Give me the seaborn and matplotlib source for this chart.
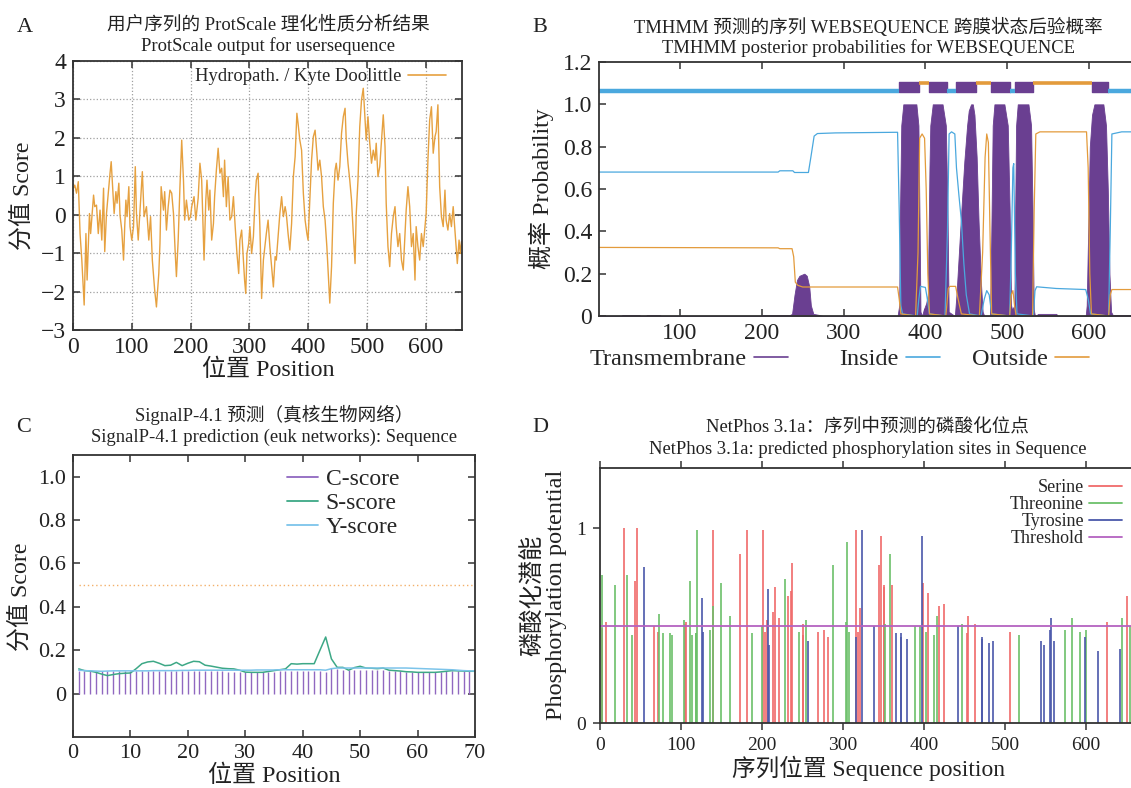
import pandas as pd
import seaborn as sns
import matplotlib.pyplot as plt
from matplotlib.lines import Line2D

# ---------------- data ----------------
# A: ProtScale hydropathy (Kyte Doolittle)
hydro_pos = [1, 3, 6, 9, 12, 15, 19, 22, 24, 28, 30, 35, 37, 40, 43, 46, 49, 52, 54, 57,
             60, 63, 65, 68, 70, 73, 75, 78, 80, 83, 86, 88, 90, 92, 95, 97, 100, 103, 106, 108,
             111, 115, 118, 121, 125, 129, 132, 135, 139, 142, 146, 148, 150, 154, 156, 159, 162, 165, 168, 171,
             174, 176, 179, 182, 185, 188, 190, 193, 197, 200, 202, 206, 209, 213, 216, 219, 223, 226, 228, 231,
             233, 236, 239, 241, 244, 247, 250, 253, 256, 258, 261, 264, 267, 270, 273, 276, 279, 282, 284, 287,
             290, 292, 294, 296, 299, 301, 304, 307, 310, 312, 315, 318, 321, 324, 327, 329, 332, 335, 338, 341,
             344, 346, 349, 352, 355, 358, 361, 363, 366, 369, 372, 375, 378, 381, 383, 386, 389, 392, 395, 398,
             400, 403, 406, 409, 412, 415, 417, 420, 423, 426, 429, 432, 434, 437, 440, 443, 446, 448, 451, 454,
             457, 460, 463, 465, 468, 471, 474, 477, 480, 482, 485, 488, 491, 494, 497, 499, 502, 505, 508, 511,
             514, 516, 519, 522, 525, 528, 531, 533, 536, 539, 542, 545, 548, 550, 553, 556, 559, 562, 565, 567,
             570, 573, 576, 579, 582, 584, 587, 590, 593, 596, 599, 601, 604, 607, 610, 613, 616, 618, 621, 624,
             627, 630, 633, 635, 638, 641, 644, 647, 650, 652, 654, 657, 659, 661]
hydro_val = [0.70, 0.77, 0.56, 0.86, -0.49, -1.18, -2.35, -0.49, -1.70, 0.03, -0.49, 0.51, 0.21, 0.25, -0.49, 0.12, -0.66, 0.69, -0.96, 0.03,
             0.56, 1.08, 1.38, 0.56, 0.03, 0.60, 0.30, 0.82, -0.01, -0.40, -1.18, -0.31, 0.38, -0.05, 0.73, -0.31, -0.66, -0.31, 1.25, 0.03,
             -0.66, 0.38, 1.12, -0.05, 0.21, -0.66, -0.05, -1.18, -1.96, -2.40, -1.53, -0.75, 0.73, 0.12, 0.60, -0.40, 0.21, 0.64, 0.56, 0.03,
             -1.01, -1.61, -0.66, 0.73, 1.94, 0.90, -0.14, 0.38, -0.14, -0.05, 0.21, 0.47, -0.14, 0.43, 1.34, 0.90, -1.18, 0.38, 0.90, 0.12,
             0.64, -0.66, -0.23, 0.47, 1.16, 1.73, 1.08, 1.21, 0.47, 1.42, 0.21, 0.99, -0.14, -0.05, 0.47, -0.31, -1.01, -1.53, -0.66, -0.40,
             -1.18, -1.70, -2.05, -1.01, -0.75, -0.31, -1.01, -0.57, 0.47, 0.90, 1.08, -0.31, -2.18, -1.18, -0.75, -0.49, -0.14, -0.83, -1.35, -1.88,
             -1.09, -1.18, -0.57, 0.03, 0.47, -0.05, 0.21, 0.03, -0.49, -0.92, -0.23, 0.99, 1.51, 2.64, 2.38, 1.94, 1.68, 0.56, -0.14, -0.49,
             -0.66, 0.38, 1.42, 2.03, 2.20, 1.60, 1.16, 1.42, 0.99, 0.21, -0.14, -0.83, -1.44, -2.30, -1.35, 0.30, 1.16, 1.34, 0.90, 1.25,
             2.12, 2.55, 2.77, 1.94, 1.34, 0.90, 0.38, -0.49, -1.27, 0.03, 0.90, 2.29, 2.99, 3.29, 2.47, 1.94, 2.55, 1.86, 1.34, 1.68,
             1.42, 1.86, 0.99, 1.25, 1.94, 2.60, 1.77, 0.30, -0.83, -1.35, -0.49, -0.05, 0.21, -0.31, -0.83, -0.49, -1.18, -1.44, -0.49, 0.12,
             0.73, 0.21, -0.83, -0.49, -1.70, -0.31, -0.83, -1.18, -0.49, -0.83, -0.31, 0.03, 1.42, 2.47, 2.81, 1.60, 2.03, 2.16, 2.86, 0.73,
             -0.05, -0.31, 0.64, -0.14, -0.40, 0.03, -0.31, 0.21, -0.40, -0.83, -1.27, -0.66, -1.01, -0.70]

# B: TMHMM posterior probabilities (breakpoints)
tm_pos = [1, 28, 30, 50, 52, 58, 60, 75, 77, 198, 200, 234, 237, 240, 243, 246, 252, 255, 258, 260,
          263, 270, 275, 366, 368, 369, 370.5, 373, 389, 391.5, 393, 394, 396, 398, 401, 403, 405, 406, 409, 421,
          425, 427, 428.5, 436, 438, 441, 444, 447.6, 451, 453, 455.8, 458, 460, 462.7, 465, 468, 470, 472, 479, 480.3,
          482.3, 484.4, 496.6, 500.7, 503, 504.8, 506, 508.8, 509.8, 510.9, 512.9, 526, 529.2, 531, 532.5, 534, 538, 560, 562, 596,
          597.2, 599, 601, 603.7, 606.6, 617.6, 620.8, 623, 625, 627, 629, 661]
tm_prob = [0, 0, 0.005, 0.005, 0, 0, 0.005, 0.005, 0, 0, 0.004, 0.004, 0.01, 0.1, 0.17, 0.19, 0.2, 0.19, 0.14, 0.05,
           0.01, 0.005, 0, 0, 0.05, 0.5, 0.9, 1.0, 1.0, 0.9, 0.4, 0.02, 0, 0.03, 0.06, 0.1, 0.7, 0.9, 1.0, 1.0,
           0.9, 0.5, 0.02, 0, 0.1, 0.3, 0.5, 0.73, 0.9, 0.97, 1.0, 1.0, 0.95, 0.75, 0.45, 0.15, 0.02, 0, 0, 0.3,
           0.9, 1.0, 1.0, 0.9, 0.5, 0.05, 0.03, 0.05, 0.5, 0.9, 1.0, 1.0, 0.9, 0.5, 0.03, 0, 0.01, 0.01, 0, 0,
           0.05, 0.4, 0.8, 0.95, 1.0, 1.0, 0.9, 0.6, 0.2, 0.02, 0.005, 0.005]
inside_pos = [1, 220, 222, 238, 240, 257, 260, 264, 268, 290, 366, 368, 370, 372, 390, 392, 394, 400, 402, 405,
              424, 427, 429, 432, 436, 438, 441, 444, 447, 450, 454, 468, 472, 475, 478, 481, 503, 505, 507, 508,
              510, 512, 532, 534, 536, 560, 596, 599, 602, 624, 626, 628, 640, 661]
inside_prob = [0.68, 0.68, 0.686, 0.686, 0.678, 0.678, 0.75, 0.85, 0.862, 0.865, 0.868, 0.5, 0.05, 0.01, 0, 0.08, 0.14, 0.135, 0.09, 0.01,
               0, 0.4, 0.86, 0.87, 0.86, 0.7, 0.57, 0.45, 0.25, 0.1, 0.01, 0, 0.08, 0.12, 0.1, 0.01, 0, 0.3, 0.7, 0.72,
               0.2, 0.01, 0, 0.12, 0.138, 0.13, 0.125, 0.08, 0.01, 0, 0.4, 0.86, 0.87, 0.87]
outside_pos = [1, 220, 222, 237, 239, 241, 244, 250, 366, 368, 370, 388, 391, 393, 396, 399, 401, 403, 405, 425,
               428, 430, 437, 440, 444, 466, 470, 473, 475, 477, 479, 481, 503, 505, 507, 509, 511, 531, 533, 535,
               540, 597, 599, 601, 603, 624, 626, 628, 661]
outside_prob = [0.324, 0.322, 0.318, 0.318, 0.28, 0.16, 0.145, 0.137, 0.137, 0.08, 0.01, 0, 0.3, 0.84, 0.86, 0.84, 0.6, 0.2, 0.01, 0,
                0.13, 0.14, 0.14, 0.08, 0.01, 0, 0.3, 0.75, 0.86, 0.82, 0.4, 0.01, 0, 0.1, 0.12, 0.05, 0, 0, 0.5, 0.86,
                0.87, 0.87, 0.7, 0.2, 0.01, 0, 0.1, 0.125, 0.125]
tm_helices = [(368, 392), (405, 427), (438, 462), (480, 503), (510, 532), (604, 623)]
inside_segments = [(1, 368), (427, 438), (503, 510), (623, 661)]
outside_segments = [(392, 405), (462, 480), (532, 604)]

# C: SignalP-4.1 scores for positions 1..70
sig_pos = list(range(1, 71))
c_score = [0.105, 0.104, 0.103, 0.103, 0.104, 0.104, 0.104, 0.104, 0.104, 0.104,
           0.104, 0.104, 0.104, 0.104, 0.104, 0.104, 0.104, 0.104, 0.104, 0.105,
           0.106, 0.106, 0.105, 0.104, 0.103, 0.102, 0.101, 0.100, 0.099, 0.098,
           0.098, 0.098, 0.098, 0.099, 0.100, 0.102, 0.104, 0.105, 0.105, 0.104,
           0.104, 0.106, 0.104, 0.098, 0.116, 0.112, 0.110, 0.110, 0.110, 0.110,
           0.110, 0.110, 0.108, 0.107, 0.106, 0.104, 0.102, 0.101, 0.100, 0.100,
           0.100, 0.100, 0.100, 0.101, 0.102, 0.102, 0.102, 0.102, 0.102, 0.102]
s_score = [0.114, 0.106, 0.104, 0.098, 0.090, 0.083, 0.088, 0.092, 0.094, 0.095,
           0.115, 0.138, 0.146, 0.149, 0.140, 0.129, 0.131, 0.144, 0.129, 0.140,
           0.149, 0.147, 0.131, 0.127, 0.122, 0.117, 0.115, 0.114, 0.108, 0.099,
           0.098, 0.098, 0.098, 0.102, 0.106, 0.110, 0.114, 0.138, 0.136, 0.138,
           0.138, 0.138, 0.200, 0.261, 0.160, 0.121, 0.121, 0.108, 0.120, 0.126,
           0.118, 0.117, 0.115, 0.118, 0.108, 0.106, 0.104, 0.101, 0.100, 0.098,
           0.098, 0.098, 0.098, 0.100, 0.103, 0.106, 0.105, 0.104, 0.103, 0.103]
y_score = [0.108, 0.106, 0.105, 0.104, 0.103, 0.104, 0.105, 0.105, 0.105, 0.105,
           0.105, 0.105, 0.105, 0.106, 0.106, 0.106, 0.106, 0.106, 0.107, 0.107,
           0.108, 0.108, 0.108, 0.108, 0.108, 0.108, 0.108, 0.108, 0.108, 0.108,
           0.108, 0.109, 0.109, 0.109, 0.109, 0.110, 0.110, 0.110, 0.110, 0.110,
           0.110, 0.110, 0.110, 0.108, 0.115, 0.118, 0.118, 0.118, 0.118, 0.118,
           0.118, 0.118, 0.118, 0.118, 0.118, 0.118, 0.118, 0.118, 0.117, 0.116,
           0.115, 0.114, 0.113, 0.112, 0.111, 0.110, 0.108, 0.106, 0.105, 0.104]
sig_threshold = 0.5

# D: NetPhos 3.1a predicted sites
ser_pos = [2, 7, 30, 43, 46, 67, 72, 105, 106, 140, 173, 182, 201, 204, 206, 213, 216, 221, 232, 236,
           237, 250, 251, 269, 276, 282, 316, 319, 321, 344, 347, 350, 351, 361, 399, 405, 419, 425, 453, 454,
           463, 506, 626, 651]
ser_val = [0.49, 0.52, 1.0, 0.73, 1.0, 0.50, 0.47, 0.51, 0.52, 0.99, 0.87, 0.99, 0.99, 0.47, 0.53, 0.57, 0.70, 0.54, 0.65, 0.68,
           0.82, 0.45, 0.51, 0.47, 0.48, 0.44, 0.99, 0.47, 0.59, 0.81, 0.96, 0.70, 0.71, 0.71, 0.72, 0.67, 0.60, 0.61, 0.46, 0.55,
           0.51, 0.47, 0.52, 0.65]
thr_pos = [3, 19, 33, 40, 73, 78, 86, 89, 104, 111, 114, 118, 119, 120, 136, 139, 149, 161, 188, 200,
           228, 246, 254, 288, 304, 305, 307, 352, 358, 389, 395, 402, 412, 416, 447, 517, 574, 583, 592, 600,
           645, 654]
thr_val = [0.76, 0.71, 0.76, 0.45, 0.56, 0.46, 0.46, 0.45, 0.53, 0.73, 0.45, 0.46, 0.46, 0.99, 0.48, 0.60, 0.72, 0.55, 0.46, 0.50,
           0.74, 0.47, 0.53, 0.81, 0.52, 0.93, 0.47, 0.51, 0.87, 0.50, 0.50, 0.47, 0.45, 0.55, 0.51, 0.45, 0.48, 0.54, 0.47, 0.48,
           0.54, 0.50]
tyr_pos = [54, 126, 127, 208, 209, 257, 316, 323, 338, 366, 371, 372, 379, 398, 442, 471, 472, 480, 485, 544,
           548, 555, 557, 561, 599, 615, 642]
tyr_val = [0.80, 0.64, 0.47, 0.69, 0.40, 0.42, 0.44, 0.99, 0.50, 0.46, 0.46, 0.44, 0.43, 0.96, 0.50, 0.44, 0.43, 0.41, 0.42, 0.42,
           0.40, 0.48, 0.54, 0.42, 0.44, 0.37, 0.38]
phos_threshold = 0.5
seq_len = 661

# ---------------- style ----------------
sns.set_theme(style='ticks')
plt.rcParams['font.family'] = ['Liberation Serif', 'Noto Sans CJK SC']
plt.rcParams['axes.linewidth'] = 1.3
plt.rcParams['axes.edgecolor'] = '#333333'

W, H = 1131, 788
fig = plt.figure(figsize=(W / 100, H / 100), dpi=100)
fig.patch.set_facecolor('white')


def box(left, top, right, bottom):
    return [left / W, 1 - bottom / H, (right - left) / W, (bottom - top) / H]


def put(x, y, s, size, rot=0, **kw):
    fig.text(x / W, 1 - y / H, s, fontsize=size, rotation=rot, ha='center', va='center', color='#222222', **kw)


def style_ticks(ax, direction, size):
    ax.tick_params(direction=direction, top=True, right=True, labelsize=size, length=5,
                   width=1.1, color='#333333', labelcolor='#222222', pad=5)
    ax.set_xlabel('')
    ax.set_ylabel('')


# ---------------- A ----------------
orange_a = '#e6a140'
ax_a = fig.add_axes(box(73, 61, 462, 330))
df_a = pd.DataFrame({'Position': hydro_pos, 'Score': hydro_val})
sns.lineplot(data=df_a, x='Position', y='Score', ax=ax_a, color=orange_a, lw=1.0)
ax_a.set_xlim(0, 662)
ax_a.set_ylim(-3, 4)
ax_a.set_xticks(range(0, 700, 100))
ax_a.set_yticks(range(-3, 5))
ax_a.grid(True, ls=':', color='#a0a0a0', lw=0.9)
ax_a.set_axisbelow(True)
style_ticks(ax_a, 'in', 17)
ax_a.legend([Line2D([], [], color=orange_a, lw=1.2)], ['Hydropath. / Kyte Doolittle'],
            loc='upper right', bbox_to_anchor=(455 / W, 1 - 59 / H), bbox_transform=fig.transFigure,
            markerfirst=False, frameon=False, fontsize=13.4, borderpad=0,
            handlelength=2.0, handletextpad=0.4)

# ---------------- B ----------------
purple_b, blue_b, orange_b = '#6a3f91', '#4aa8de', '#e39b3c'
ax_b = fig.add_axes(box(599, 62, 599 + 660 * 0.818, 316))
ax_b.fill_between(tm_pos, tm_prob, color=purple_b, lw=0.6, edgecolor=purple_b)
sns.lineplot(x=inside_pos, y=inside_prob, ax=ax_b, color=blue_b, lw=0.9)
sns.lineplot(x=outside_pos, y=outside_prob, ax=ax_b, color=orange_b, lw=0.9)
ax_b.hlines([1.062] * len(inside_segments), [s for s, e in inside_segments], [e for s, e in inside_segments],
            color=blue_b, lw=3.2)
ax_b.hlines([1.102] * len(outside_segments), [s for s, e in outside_segments], [e for s, e in outside_segments],
            color=orange_b, lw=2.6)
ax_b.broken_barh([(s, e - s) for s, e in tm_helices], (1.057, 0.05), color=purple_b)
ax_b.set_xlim(1, 661)
ax_b.set_ylim(0, 1.2)
ax_b.set_xticks(range(100, 700, 100))
ax_b.set_yticks([0, 0.2, 0.4, 0.6, 0.8, 1.0, 1.2])
ax_b.set_yticklabels(['0', '0.2', '0.4', '0.6', '0.8', '1.0', '1.2'])
style_ticks(ax_b, 'in', 17)
for lab, col, x0 in [('Transmembrane', purple_b, 575), ('Inside', blue_b, 825), ('Outside', orange_b, 957)]:
    fig.legend([Line2D([], [], color=col, lw=1.2)], [lab], loc='center left',
               bbox_to_anchor=(x0 / W, 1 - 359 / H), markerfirst=False, frameon=False,
               fontsize=17.5, handlelength=1.4, handletextpad=0.3, borderpad=0.1)

# ---------------- C ----------------
c_col, s_col, y_col = '#9068c0', '#3da886', '#7cc4ea'
ax_c = fig.add_axes(box(73, 455, 475, 737))
ax_c.vlines(sig_pos, 0, c_score, color=c_col, lw=1.0)
sns.lineplot(x=sig_pos, y=s_score, ax=ax_c, color=s_col, lw=1.1)
sns.lineplot(x=sig_pos, y=y_score, ax=ax_c, color=y_col, lw=1.1)
ax_c.hlines(sig_threshold, sig_pos[0], sig_pos[-1], colors='#f3b06a', linestyles=(0, (1, 2)), lw=1.0)
ax_c.set_xlim(0, 70)
ax_c.set_ylim(-0.2, 1.1)
ax_c.set_xticks(range(0, 80, 10))
ax_c.set_yticks([0, 0.2, 0.4, 0.6, 0.8, 1.0])
ax_c.set_yticklabels(['0', '0.2', '0.4', '0.6', '0.8', '1.0'])
style_ticks(ax_c, 'in', 16)
ax_c.legend([Line2D([], [], color=c, lw=1.3) for c in (c_col, s_col, y_col)], ['C-score', 'S-score', 'Y-score'],
            loc='upper left', bbox_to_anchor=(275 / W, 1 - 457 / H), bbox_transform=fig.transFigure,
            frameon=False, fontsize=17, handlelength=1.3, handletextpad=0.35, labelspacing=0.1, borderpad=0)

# ---------------- D ----------------
ser_col, thr_col, tyr_col, thr_line = '#f06a6a', '#6cc06a', '#4a58aa', '#b462c0'
ax_d = fig.add_axes(box(600, 468, 600 + seq_len * 0.81, 723))
ax_d.vlines(ser_pos, 0, ser_val, color=ser_col, lw=1.2)
ax_d.vlines(thr_pos, 0, thr_val, color=thr_col, lw=1.2)
ax_d.vlines(tyr_pos, 0, tyr_val, color=tyr_col, lw=1.2)
ax_d.hlines(phos_threshold, 0, seq_len, color=thr_line, lw=1.3)
ax_d.set_xlim(0, seq_len)
ax_d.set_ylim(0, 1.31)
ax_d.set_xticks(range(0, 700, 100))
ax_d.set_yticks([0, 1])
style_ticks(ax_d, 'out', 14)
ax_d.legend([Line2D([], [], color=c, lw=1.3) for c in (ser_col, thr_col, tyr_col, thr_line)],
            ['Serine', 'Threonine', 'Tyrosine', 'Threshold'],
            loc='upper right', bbox_to_anchor=(1131 / W, 1 - 470 / H), bbox_transform=fig.transFigure,
            markerfirst=False, frameon=False, fontsize=13, handlelength=1.8, handletextpad=0.3,
            labelspacing=0.0, borderpad=0)

# ---------------- titles, labels, panel letters ----------------
put(25, 27, 'A', 16)
put(540, 27, 'B', 16)
put(24, 427, 'C', 16)
put(540, 427, 'D', 16)

put(268, 24, '用户序列的 ProtScale 理化性质分析结果', 13.4)
put(268, 46, 'ProtScale output for usersequence', 13.4)
put(868, 27, 'TMHMM 预测的序列 WEBSEQUENCE 跨膜状态后验概率', 13.4)
put(868, 48, 'TMHMM posterior probabilities for WEBSEQUENCE', 13.4)
put(274, 415, 'SignalP-4.1 预测（真核生物网络）', 13.4)
put(274, 437, 'SignalP-4.1 prediction (euk networks): Sequence', 13.4)
put(868, 427, 'NetPhos 3.1a：序列中预测的磷酸化位点', 13.4)
put(868, 450, 'NetPhos 3.1a: predicted phosphorylation sites in Sequence', 13.4)

put(268, 370, '位置 Position', 17.3)
put(23, 196, '分值 Score', 17.3, rot=90)
put(541, 189, '概率 Probability', 17.3, rot=90)
put(274, 776, '位置 Position', 17.3)
put(21, 597, '分值 Score', 17.3, rot=90)
put(868, 768, '序列位置 Sequence position', 17)
put(545, 595, '磷酸化潜能\nPhosphorylation potential', 17.5, rot=90, multialignment='center', linespacing=1.05)

fig.savefig('out.png', dpi=100)
